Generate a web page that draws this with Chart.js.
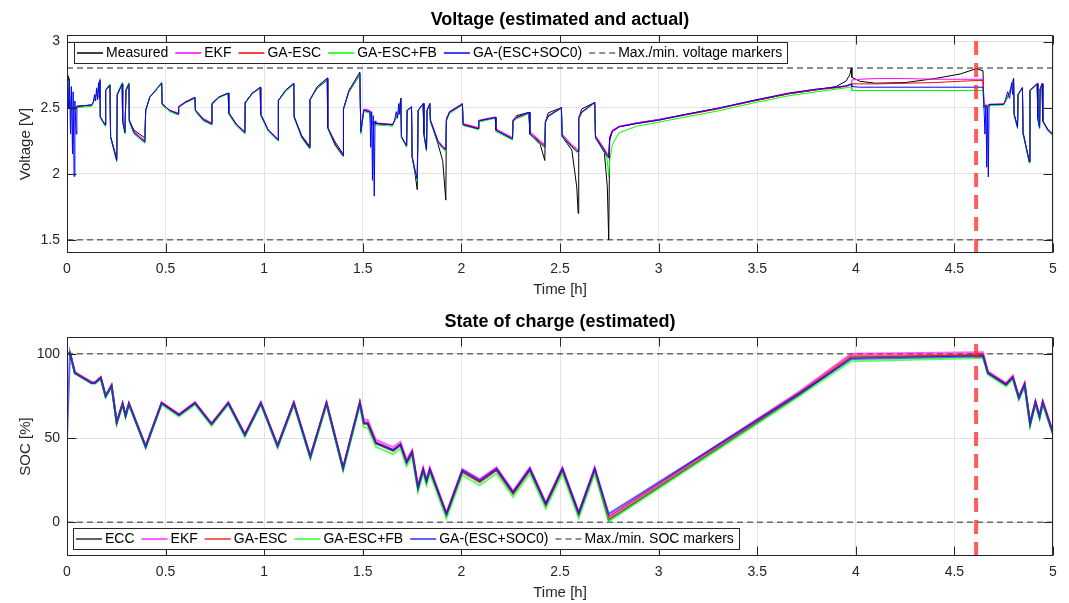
<!DOCTYPE html>
<html>
<head>
<meta charset="utf-8">
<script src="https://cdn.jsdelivr.net/npm/chart.js@4.4.1/dist/chart.umd.min.js"></script>
<style>
  body { margin: 0; background: #fff; }
  #wrap { position: relative; width: 1069px; height: 603px; }
  canvas { position: absolute; left: 0; }
</style>
</head>
<body>
<div id="wrap">
  <canvas id="voltChart" width="1069" height="302" style="top:0"></canvas>
  <canvas id="socChart" width="1069" height="301" style="top:302px"></canvas>
</div>
<script>
// Axis ticks
const timeTicks = [0, 0.5, 1, 1.5, 2, 2.5, 3, 3.5, 4, 4.5, 5];
const voltTicks = [1.5, 2, 2.5, 3];
const socTicks = [0, 50, 100];
const voltLimits = [1.5, 2.8];   // min / max voltage markers
const socLimits = [0, 100];      // min / max SOC markers
const markerTime = 4.61;         // red dashed marker [h]

// Voltage: time [h] and one array per series [V]
const voltTime = [
  0.000, 0.008, 0.012, 0.018, 0.022, 0.028, 0.031, 0.036, 0.040, 0.046,
  0.050, 0.125, 0.133, 0.140, 0.145, 0.150, 0.155, 0.160, 0.163, 0.167,
  0.169, 0.193, 0.196, 0.218, 0.221, 0.252, 0.255, 0.280, 0.282, 0.294,
  0.299, 0.314, 0.316, 0.340, 0.395, 0.399, 0.420, 0.480, 0.482, 0.520,
  0.564, 0.566, 0.600, 0.649, 0.651, 0.690, 0.733, 0.735, 0.770, 0.818,
  0.820, 0.860, 0.902, 0.904, 0.940, 0.980, 0.982, 1.020, 1.070, 1.072,
  1.110, 1.150, 1.152, 1.190, 1.230, 1.232, 1.270, 1.320, 1.322, 1.360,
  1.400, 1.402, 1.430, 1.485, 1.490, 1.505, 1.536, 1.540, 1.545, 1.549,
  1.553, 1.558, 1.562, 1.566, 1.651, 1.660, 1.670, 1.676, 1.682, 1.687,
  1.693, 1.696, 1.722, 1.725, 1.747, 1.750, 1.765, 1.776, 1.781, 1.806,
  1.810, 1.823, 1.826, 1.840, 1.843, 1.882, 1.905, 1.921, 1.924, 1.940,
  2.005, 2.009, 2.085, 2.088, 2.172, 2.175, 2.259, 2.262, 2.280, 2.343,
  2.347, 2.400, 2.423, 2.426, 2.440, 2.507, 2.511, 2.560, 2.585, 2.592,
  2.595, 2.610, 2.676, 2.680, 2.725, 2.740, 2.747, 2.752, 2.765, 2.800,
  2.890, 3.000, 3.140, 3.300, 3.480, 3.660, 3.800, 3.900, 3.950, 3.970,
  3.977, 3.980, 4.020, 4.100, 4.250, 4.400, 4.530, 4.610, 4.645, 4.650,
  4.655, 4.660, 4.664, 4.668, 4.672, 4.676, 4.750, 4.755, 4.770, 4.780,
  4.790, 4.795, 4.800, 4.803, 4.820, 4.823, 4.845, 4.848, 4.880, 4.883,
  4.920, 4.923, 4.932, 4.935, 4.945, 4.948, 4.975, 5.000
];
const voltMeasured = [
  2.74, 2.74, 2.50, 2.50, 2.50, 2.50, 2.50, 2.50, 2.50, 2.50,
  2.51, 2.52, 2.54, 2.57, 2.585, 2.60, 2.62, 2.64, 2.66, 2.71,
  2.43, 2.37, 2.63, 2.67, 2.28, 2.11, 2.60, 2.68, 2.40, 2.32,
  2.63, 2.68, 2.40, 2.33, 2.27, 2.48, 2.58, 2.68, 2.53, 2.48,
  2.455, 2.505, 2.54, 2.576, 2.48, 2.41, 2.38, 2.53, 2.58, 2.61,
  2.46, 2.37, 2.315, 2.54, 2.61, 2.65, 2.45, 2.33, 2.26, 2.555,
  2.63, 2.68, 2.43, 2.29, 2.21, 2.56, 2.65, 2.71, 2.35, 2.24,
  2.15, 2.49, 2.62, 2.75, 2.32, 2.48, 2.47, 2.40, 2.38, 2.38,
  2.38, 2.38, 2.38, 2.38, 2.37, 2.40, 2.42, 2.44, 2.47, 2.50,
  2.57, 2.28, 2.21, 2.48, 2.505, 2.13, 2.00, 1.88, 2.48, 2.53,
  2.30, 2.18, 2.48, 2.53, 2.40, 2.22, 2.10, 1.80, 2.40, 2.47,
  2.53, 2.37, 2.34, 2.40, 2.425, 2.33, 2.26, 2.40, 2.44, 2.465,
  2.30, 2.22, 2.10, 2.39, 2.46, 2.50, 2.28, 2.18, 1.90, 1.70,
  2.42, 2.49, 2.54, 2.27, 2.16, 1.90, 1.50, 2.25, 2.32, 2.355,
  2.385, 2.41, 2.45, 2.495, 2.55, 2.605, 2.635, 2.66, 2.70, 2.75,
  2.80, 2.73, 2.70, 2.685, 2.69, 2.72, 2.755, 2.795, 2.78, 2.50,
  2.50, 2.50, 2.50, 2.51, 2.51, 2.52, 2.525, 2.54, 2.58, 2.62,
  2.66, 2.68, 2.72, 2.45, 2.355, 2.60, 2.65, 2.31, 2.09, 2.63,
  2.68, 2.42, 2.35, 2.64, 2.68, 2.40, 2.33, 2.30
];
const voltEKF = [
  2.72, 2.70, 2.60, 2.50, 2.50, 2.50, 2.50, 2.50, 2.50, 2.50,
  2.51, 2.52, 2.54, 2.57, 2.585, 2.60, 2.62, 2.64, 2.66, 2.71,
  2.43, 2.37, 2.63, 2.67, 2.28, 2.11, 2.60, 2.68, 2.40, 2.32,
  2.63, 2.68, 2.41, 2.32, 2.25, 2.48, 2.58, 2.68, 2.53, 2.48,
  2.46, 2.51, 2.545, 2.58, 2.485, 2.42, 2.385, 2.53, 2.58, 2.61,
  2.465, 2.375, 2.32, 2.54, 2.61, 2.655, 2.455, 2.335, 2.265, 2.555,
  2.635, 2.685, 2.435, 2.285, 2.20, 2.56, 2.66, 2.72, 2.355, 2.225,
  2.14, 2.49, 2.63, 2.76, 2.32, 2.49, 2.48, 2.41, 2.39, 2.39,
  2.39, 2.39, 2.39, 2.385, 2.375, 2.40, 2.42, 2.44, 2.47, 2.50,
  2.57, 2.28, 2.21, 2.48, 2.51, 2.13, 2.03, 1.97, 2.48, 2.53,
  2.30, 2.19, 2.48, 2.53, 2.41, 2.25, 2.21, 2.19, 2.42, 2.47,
  2.53, 2.38, 2.35, 2.405, 2.43, 2.34, 2.275, 2.41, 2.43, 2.465,
  2.32, 2.25, 2.22, 2.40, 2.44, 2.50, 2.30, 2.22, 2.19, 2.18,
  2.43, 2.47, 2.54, 2.29, 2.19, 2.15, 2.13, 2.28, 2.33, 2.36,
  2.385, 2.41, 2.45, 2.495, 2.555, 2.61, 2.64, 2.655, 2.665, 2.675,
  2.68, 2.71, 2.715, 2.72, 2.72, 2.715, 2.715, 2.715, 2.715, 2.52,
  2.52, 2.52, 2.52, 2.52, 2.52, 2.525, 2.53, 2.545, 2.58, 2.62,
  2.66, 2.68, 2.72, 2.45, 2.355, 2.60, 2.655, 2.31, 2.09, 2.63,
  2.685, 2.42, 2.355, 2.645, 2.685, 2.40, 2.335, 2.305
];
const voltGaEsc = [
  2.72, 2.70, 2.60, 2.50, 2.50, 2.50, 2.50, 2.50, 2.50, 2.50,
  2.51, 2.52, 2.54, 2.57, 2.585, 2.60, 2.62, 2.64, 2.66, 2.71,
  2.43, 2.37, 2.63, 2.67, 2.28, 2.11, 2.60, 2.68, 2.40, 2.32,
  2.63, 2.68, 2.40, 2.31, 2.24, 2.48, 2.58, 2.68, 2.53, 2.48,
  2.455, 2.505, 2.54, 2.576, 2.48, 2.41, 2.38, 2.53, 2.58, 2.61,
  2.46, 2.37, 2.31, 2.54, 2.61, 2.65, 2.45, 2.33, 2.255, 2.555,
  2.63, 2.68, 2.43, 2.28, 2.20, 2.56, 2.66, 2.72, 2.35, 2.22,
  2.14, 2.49, 2.63, 2.76, 2.315, 2.48, 2.47, 2.40, 2.38, 2.38,
  2.38, 2.38, 2.38, 2.38, 2.37, 2.40, 2.42, 2.44, 2.47, 2.50,
  2.57, 2.28, 2.21, 2.48, 2.505, 2.13, 2.02, 1.96, 2.48, 2.53,
  2.30, 2.18, 2.48, 2.53, 2.40, 2.24, 2.20, 2.18, 2.41, 2.465,
  2.525, 2.375, 2.345, 2.40, 2.425, 2.33, 2.265, 2.405, 2.425, 2.46,
  2.31, 2.24, 2.21, 2.395, 2.435, 2.50, 2.29, 2.21, 2.18, 2.17,
  2.42, 2.465, 2.54, 2.28, 2.18, 2.14, 2.12, 2.27, 2.32, 2.355,
  2.38, 2.405, 2.445, 2.49, 2.55, 2.605, 2.635, 2.65, 2.66, 2.67,
  2.675, 2.68, 2.68, 2.68, 2.685, 2.69, 2.70, 2.705, 2.705, 2.51,
  2.51, 2.51, 2.51, 2.51, 2.51, 2.52, 2.525, 2.54, 2.58, 2.62,
  2.66, 2.68, 2.72, 2.45, 2.35, 2.60, 2.65, 2.31, 2.09, 2.63,
  2.68, 2.42, 2.35, 2.64, 2.68, 2.40, 2.33, 2.295
];
const voltGaEscFb = [
  2.71, 2.70, 2.62, 2.50, 2.49, 2.49, 2.49, 2.49, 2.49, 2.49,
  2.50, 2.51, 2.535, 2.57, 2.585, 2.60, 2.62, 2.64, 2.66, 2.72,
  2.42, 2.36, 2.64, 2.68, 2.27, 2.09, 2.61, 2.69, 2.39, 2.30,
  2.64, 2.69, 2.39, 2.30, 2.23, 2.47, 2.58, 2.68, 2.52, 2.47,
  2.445, 2.50, 2.535, 2.57, 2.47, 2.40, 2.37, 2.52, 2.575, 2.605,
  2.45, 2.36, 2.30, 2.53, 2.605, 2.645, 2.44, 2.32, 2.245, 2.55,
  2.625, 2.675, 2.42, 2.27, 2.19, 2.555, 2.655, 2.715, 2.34, 2.21,
  2.13, 2.485, 2.625, 2.755, 2.30, 2.47, 2.46, 2.39, 2.37, 2.37,
  2.37, 2.37, 2.37, 2.37, 2.36, 2.395, 2.415, 2.435, 2.465, 2.495,
  2.565, 2.27, 2.20, 2.475, 2.50, 2.12, 2.01, 1.95, 2.475, 2.525,
  2.29, 2.17, 2.475, 2.525, 2.39, 2.23, 2.19, 2.17, 2.40, 2.455,
  2.52, 2.365, 2.335, 2.39, 2.42, 2.32, 2.255, 2.395, 2.415, 2.455,
  2.30, 2.23, 2.20, 2.385, 2.43, 2.495, 2.28, 2.20, 2.165, 2.16,
  2.41, 2.46, 2.535, 2.27, 2.17, 2.10, 1.975, 2.10, 2.22, 2.31,
  2.36, 2.39, 2.43, 2.475, 2.535, 2.59, 2.62, 2.64, 2.65, 2.655,
  2.66, 2.63, 2.63, 2.63, 2.63, 2.63, 2.63, 2.63, 2.63, 2.50,
  2.50, 2.50, 2.50, 2.50, 2.50, 2.515, 2.52, 2.535, 2.575, 2.615,
  2.655, 2.675, 2.715, 2.44, 2.34, 2.595, 2.645, 2.30, 2.08, 2.625,
  2.675, 2.41, 2.34, 2.635, 2.675, 2.39, 2.32, 2.285
];
const voltGaEscSoc0 = [
  2.71, 2.50, 2.72, 2.30, 2.66, 2.15, 2.62, 1.98, 2.55, 2.30,
  2.51, 2.52, 2.54, 2.60, 2.55, 2.65, 2.56, 2.69, 2.57, 2.71,
  2.43, 2.37, 2.63, 2.67, 2.28, 2.10, 2.60, 2.68, 2.40, 2.31,
  2.63, 2.68, 2.40, 2.31, 2.24, 2.48, 2.58, 2.69, 2.53, 2.48,
  2.45, 2.505, 2.54, 2.576, 2.48, 2.41, 2.375, 2.53, 2.58, 2.61,
  2.46, 2.37, 2.31, 2.54, 2.61, 2.655, 2.45, 2.33, 2.255, 2.555,
  2.635, 2.685, 2.43, 2.28, 2.195, 2.56, 2.66, 2.725, 2.35, 2.22,
  2.135, 2.49, 2.63, 2.77, 2.315, 2.48, 2.47, 2.20, 2.47, 1.95,
  2.44, 1.83, 2.40, 2.38, 2.37, 2.40, 2.47, 2.42, 2.53, 2.45,
  2.57, 2.28, 2.21, 2.48, 2.505, 2.13, 2.02, 1.96, 2.48, 2.53,
  2.30, 2.18, 2.48, 2.53, 2.40, 2.24, 2.20, 2.18, 2.41, 2.465,
  2.525, 2.37, 2.34, 2.40, 2.425, 2.33, 2.265, 2.40, 2.425, 2.465,
  2.30, 2.235, 2.20, 2.39, 2.435, 2.50, 2.285, 2.205, 2.17, 2.165,
  2.42, 2.465, 2.54, 2.275, 2.175, 2.13, 2.12, 2.27, 2.32, 2.355,
  2.38, 2.405, 2.45, 2.495, 2.555, 2.61, 2.64, 2.655, 2.665, 2.675,
  2.68, 2.66, 2.655, 2.655, 2.655, 2.655, 2.655, 2.655, 2.655, 2.505,
  2.30, 2.52, 2.05, 2.50, 1.975, 2.525, 2.525, 2.54, 2.62, 2.57,
  2.69, 2.60, 2.72, 2.45, 2.35, 2.60, 2.65, 2.31, 2.09, 2.63,
  2.68, 2.42, 2.35, 2.64, 2.68, 2.40, 2.33, 2.295
];

// State of charge: time [h] and one array per series [%]
const socTime = [
  0.000, 0.015, 0.040, 0.125, 0.142, 0.171, 0.196, 0.226, 0.252, 0.282,
  0.297, 0.314, 0.399, 0.480, 0.568, 0.649, 0.733, 0.818, 0.902, 0.983,
  1.068, 1.150, 1.234, 1.316, 1.400, 1.485, 1.505, 1.525, 1.566, 1.654,
  1.691, 1.722, 1.750, 1.780, 1.806, 1.823, 1.840, 1.924, 2.005, 2.093,
  2.178, 2.262, 2.347, 2.428, 2.512, 2.595, 2.676, 2.747, 3.715, 3.977,
  4.645, 4.670, 4.762, 4.796, 4.827, 4.856, 4.884, 4.911, 4.932, 4.948,
  5.000
];
const socECC = [
  100, 100.5, 88.6, 82.7, 82.7, 85.7, 74.7, 81.0, 59.1, 70.3,
  63.1, 70.3, 44.8, 70.7, 63.7, 70.7, 58.2, 70.7, 51.8, 70.7,
  45.2, 70.7, 38.8, 70.7, 31.9, 70.7, 58.5, 58.3, 46.8, 42.4,
  45.8, 35.2, 41.2, 20.0, 30.9, 23.9, 30.9, 4.2, 29.8, 23.9,
  30.9, 16.9, 30.9, 10.0, 30.9, 4.4, 30.9, 1.4, 75.8, 97.9,
  99.2, 88.6, 81.7, 86.0, 73.7, 81.7, 58.2, 71.1, 62.4, 71.1,
  52.8
];
const socEKF = [
  100, 100.8, 89.2, 83.3, 83.3, 86.3, 75.3, 81.6, 59.7, 70.9,
  63.7, 70.9, 45.4, 71.3, 64.2, 71.3, 58.8, 71.3, 52.4, 71.3,
  45.8, 71.3, 39.4, 71.3, 32.6, 71.5, 61.0, 60.8, 49.0, 44.6,
  47.8, 37.2, 43.0, 22.0, 32.6, 25.6, 32.6, 5.6, 31.5, 25.6,
  32.6, 18.6, 32.6, 11.7, 32.6, 6.1, 32.6, 3.5, 77.7, 100.0,
  101.0, 89.6, 82.7, 87.0, 74.7, 82.7, 59.2, 72.1, 63.4, 72.1,
  53.8
];
const socGaEsc = [
  100, 100.5, 88.8, 82.9, 82.9, 85.9, 74.9, 81.2, 59.3, 70.5,
  63.3, 70.5, 45.0, 70.9, 63.8, 70.9, 58.4, 70.9, 52.0, 70.9,
  45.4, 70.9, 39.0, 70.9, 32.1, 71.0, 59.5, 59.3, 47.5, 43.1,
  46.4, 35.8, 41.7, 20.6, 31.4, 24.4, 31.4, 4.6, 30.4, 24.4,
  31.4, 17.4, 31.4, 10.5, 31.4, 4.9, 31.4, 3.0, 77.0, 98.8,
  99.6, 89.0, 82.1, 86.4, 74.1, 82.1, 58.6, 71.5, 62.8, 71.5,
  53.2
];
const socGaEscFb = [
  100, 100.3, 88.2, 82.2, 82.2, 85.2, 74.2, 80.5, 58.5, 69.8,
  62.5, 69.8, 44.0, 69.8, 62.8, 69.8, 57.2, 69.8, 50.8, 69.8,
  44.0, 69.7, 37.6, 69.6, 30.6, 69.4, 56.4, 56.2, 44.8, 40.4,
  43.8, 33.2, 39.2, 18.2, 29.0, 22.0, 29.0, 2.2, 28.0, 22.0,
  29.0, 15.0, 29.0, 8.1, 29.0, 2.5, 29.0, 0.5, 75.1, 95.6,
  97.6, 87.6, 80.6, 84.9, 72.6, 80.6, 57.1, 70.0, 61.3, 70.0,
  51.7
];
const socGaEscSoc0 = [
  50, 100.5, 88.6, 82.7, 82.7, 85.7, 74.7, 81.0, 59.1, 70.3,
  63.1, 70.3, 44.8, 70.7, 63.7, 70.7, 58.2, 70.7, 51.8, 70.7,
  45.2, 70.7, 38.8, 70.7, 31.9, 70.9, 59.0, 58.8, 47.3, 42.9,
  46.3, 35.7, 41.7, 20.5, 31.4, 24.4, 31.4, 5.0, 31.0, 24.9,
  31.9, 17.9, 31.9, 11.0, 31.9, 5.4, 31.9, 5.0, 76.5, 97.0,
  98.6, 88.6, 81.7, 86.0, 73.7, 81.7, 58.2, 71.1, 62.4, 71.1,
  52.8
];

// Styling
const fontFamily = '"Liberation Sans", Arial, Helvetica, sans-serif';
const axisColor = '#262626';
const gridColor = '#e3e3e3';
const markerGray = '#6b6b6b';
const tickLen = 9;

Chart.defaults.font.family = fontFamily;
Chart.defaults.font.size = 14;
Chart.defaults.color = axisColor;

// Build a line dataset from a time array and a value array
function lineSet(label, times, values, color, width, order) {
  return {
    label: label,
    data: times.map((t, i) => ({ x: t, y: values[i] })),
    borderColor: color,
    legendColor: color,
    borderWidth: width,
    pointRadius: 0,
    fill: false,
    tension: 0,
    order: order
  };
}

// Horizontal max/min marker line
function markerLine(label, value, inLegend) {
  return {
    label: label,
    data: [{ x: timeTicks[0], y: value }, { x: timeTicks[timeTicks.length - 1], y: value }],
    borderColor: markerGray,
    legendColor: markerGray,
    borderWidth: 1.5,
    borderDash: [6, 4],
    pointRadius: 0,
    order: 7,
    inLegend: inLegend
  };
}

// Red dashed vertical marker
function redMarker(yMin, yMax) {
  return {
    label: '',
    data: [{ x: markerTime, y: yMin }, { x: markerTime, y: yMax }],
    borderColor: 'rgba(255, 30, 30, 0.72)',
    borderWidth: 4,
    borderDash: [14, 8],
    pointRadius: 0,
    order: 0,
    inLegend: false
  };
}

// MATLAB-like frame: box, inward ticks, legend, titles
const matlabAxes = {
  id: 'matlabAxes',
  afterDatasetsDraw(chart, args, opts) {
    const ctx = chart.ctx;
    const a = chart.chartArea;
    const sx = chart.scales.x;
    const sy = chart.scales.y;
    ctx.save();

    // box and ticks
    ctx.strokeStyle = axisColor;
    ctx.lineWidth = 1;
    const L = Math.round(a.left) + 0.5, R = Math.round(a.right) - 0.5;
    const T = Math.round(a.top) + 0.5, B = Math.round(a.bottom) - 0.5;
    ctx.strokeRect(L, T, R - L, B - T);
    ctx.beginPath();
    sx.ticks.forEach(t => {
      const px = Math.round(sx.getPixelForValue(t.value)) + 0.5;
      ctx.moveTo(px, B); ctx.lineTo(px, B - tickLen);
      ctx.moveTo(px, T); ctx.lineTo(px, T + tickLen);
    });
    sy.ticks.forEach(t => {
      const py = Math.round(sy.getPixelForValue(t.value)) + 0.5;
      ctx.moveTo(L, py); ctx.lineTo(L + tickLen, py);
      ctx.moveTo(R, py); ctx.lineTo(R - tickLen, py);
    });
    ctx.stroke();

    // legend
    ctx.font = '14px ' + fontFamily;
    const items = chart.data.datasets.filter(d => d.inLegend !== false);
    const boxH = 21;
    const bx = a.left + opts.legendDx;
    const by = opts.legendAtBottom ? a.bottom - opts.legendDy - boxH : a.top + opts.legendDy;
    let x = bx + 1;
    const layout = items.map(d => {
      const w = ctx.measureText(d.label).width;
      const item = { d: d, x: x, w: w };
      x += 31 + w + 5;
      return item;
    });
    const boxW = x - bx;
    ctx.fillStyle = '#fff';
    ctx.fillRect(bx, by, boxW, boxH);
    ctx.strokeStyle = axisColor;
    ctx.lineWidth = 1;
    ctx.strokeRect(Math.round(bx) + 0.5, Math.round(by) + 0.5, Math.round(boxW), boxH);
    const cy = Math.round(by + boxH / 2);
    layout.forEach(it => {
      ctx.beginPath();
      ctx.strokeStyle = it.d.legendColor;
      ctx.lineWidth = Math.max(it.d.borderWidth, 1.5);
      ctx.setLineDash(it.d.borderDash || []);
      ctx.moveTo(it.x + 2, cy);
      ctx.lineTo(it.x + 28, cy);
      ctx.stroke();
      ctx.setLineDash([]);
      ctx.fillStyle = '#000';
      ctx.textBaseline = 'middle';
      ctx.textAlign = 'left';
      ctx.fillText(it.d.label, it.x + 31, cy);
    });

    // titles
    const midX = (a.left + a.right) / 2;
    ctx.fillStyle = '#000';
    ctx.textAlign = 'center';
    ctx.textBaseline = 'middle';
    ctx.font = 'bold 18px ' + fontFamily;
    ctx.fillText(opts.title, midX, a.top - 15);
    ctx.fillStyle = axisColor;
    ctx.font = '15px ' + fontFamily;
    ctx.fillText(opts.xTitle, midX, a.bottom + 37);
    ctx.save();
    ctx.translate(26, (a.top + a.bottom) / 2);
    ctx.rotate(-Math.PI / 2);
    ctx.fillText(opts.yTitle, 0, 0);
    ctx.restore();

    ctx.restore();
  }
};

function buildOptions(yMin, yMax, yTicks, xAxisHeight, frame) {
  return {
    responsive: false,
    animation: false,
    events: [],
    layout: { padding: { top: 35, right: 16, left: 0, bottom: 0 } },
    plugins: {
      legend: { display: false },
      tooltip: { enabled: false },
      matlabAxes: frame
    },
    scales: {
      x: {
        type: 'linear',
        min: timeTicks[0],
        max: timeTicks[timeTicks.length - 1],
        afterBuildTicks: s => { s.ticks = timeTicks.map(v => ({ value: v })); },
        afterFit: s => { s.height = xAxisHeight; },
        ticks: { padding: 8, maxRotation: 0, autoSkip: false, callback: v => String(v) },
        grid: { color: gridColor, drawTicks: false },
        border: { display: false }
      },
      y: {
        type: 'linear',
        min: yMin,
        max: yMax,
        afterBuildTicks: s => { s.ticks = yTicks.map(v => ({ value: v })); },
        afterFit: s => { s.width = 67; },
        ticks: { padding: 7, autoSkip: false, callback: v => String(v) },
        grid: { color: gridColor, drawTicks: false },
        border: { display: false }
      }
    }
  };
}

// Voltage chart
new Chart(document.getElementById('voltChart'), {
  type: 'line',
  data: {
    datasets: [
      lineSet('Measured', voltTime, voltMeasured, '#000000', 1, 5),
      lineSet('EKF', voltTime, voltEKF, '#ff00ff', 1, 4),
      lineSet('GA-ESC', voltTime, voltGaEsc, '#ff0000', 1, 3),
      lineSet('GA-ESC+FB', voltTime, voltGaEscFb, '#00ff00', 1, 2),
      lineSet('GA-(ESC+SOC0)', voltTime, voltGaEscSoc0, '#0000ff', 1, 1),
      markerLine('Max./min. voltage markers', voltLimits[1], true),
      markerLine('', voltLimits[0], false),
      redMarker(1.4, 3.05)
    ]
  },
  options: buildOptions(1.4, 3.05, voltTicks, 49, {
    title: 'Voltage (estimated and actual)',
    xTitle: 'Time [h]',
    yTitle: 'Voltage [V]',
    legendDx: 7,
    legendDy: 7,
    legendAtBottom: false
  }),
  plugins: [matlabAxes]
});

// SOC chart
new Chart(document.getElementById('socChart'), {
  type: 'line',
  data: {
    datasets: [
      lineSet('ECC', socTime, socECC, 'rgba(0, 0, 0, 0.62)', 2, 5),
      lineSet('EKF', socTime, socEKF, 'rgba(255, 0, 255, 0.62)', 2, 4),
      lineSet('GA-ESC', socTime, socGaEsc, 'rgba(255, 0, 0, 0.62)', 2, 3),
      lineSet('GA-ESC+FB', socTime, socGaEscFb, 'rgba(0, 255, 0, 0.62)', 2, 2),
      lineSet('GA-(ESC+SOC0)', socTime, socGaEscSoc0, 'rgba(0, 0, 255, 0.62)', 2, 1),
      markerLine('Max./min. SOC markers', socLimits[1], true),
      markerLine('', socLimits[0], false),
      redMarker(-20, 110)
    ]
  },
  options: buildOptions(-20, 110, socTicks, 47, {
    title: 'State of charge (estimated)',
    xTitle: 'Time [h]',
    yTitle: 'SOC [%]',
    legendDx: 6,
    legendDy: 7,
    legendAtBottom: true
  }),
  plugins: [matlabAxes]
});
</script>
</body>
</html>
